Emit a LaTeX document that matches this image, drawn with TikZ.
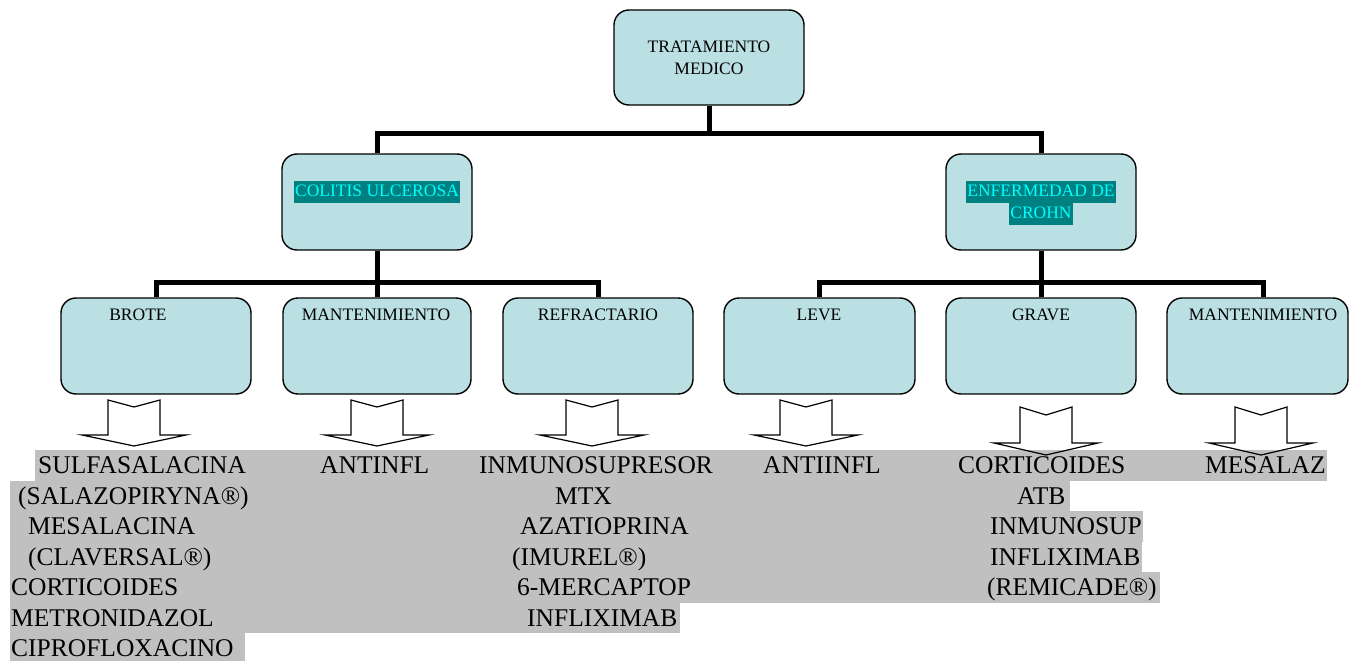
\documentclass[tikz,border=0pt]{standalone}
\usepackage{fontspec}
\setmainfont{Liberation Serif}
\definecolor{boxfill}{HTML}{BBE0E3}
\definecolor{bandgray}{HTML}{C0C0C0}
\definecolor{hlteal}{HTML}{008080}
\definecolor{hlcyan}{HTML}{00FFFF}
\tikzset{
  box/.style={draw=black, line width=1.4pt, fill=boxfill, rounded corners=15pt, inner sep=0pt},
  bigbox/.style={box, minimum width=190pt, minimum height=96pt},
  conn/.style={draw=black, line width=5pt, line join=miter},
  boxtxt/.style={font=\fontsize{17.5}{22}\selectfont, inner sep=0pt, align=center},
  hl/.style={boxtxt, fill=hlteal, text=hlcyan, inner xsep=1pt, text height=14pt, text depth=5pt, inner ysep=1.5pt},
  bt/.style={font=\fontsize{25.5}{30}\selectfont, anchor=base west, inner sep=0pt},
  band/.style={fill=bandgray},
  barrow/.pic={\draw[line width=1.2pt, line join=miter, fill=white]
     (-26,0) -- (0,7) -- (26,0) -- (26,35) -- (52,35) -- (0,46) -- (-52,35) -- (-26,35) -- cycle;},
  barrowopen/.pic={\draw[line width=1.2pt, line join=miter]
     (-26,0) -- (0,8) -- (26,0) -- (26,36) -- (52,36) -- (0,48) -- (-52,36) -- (-26,36) -- cycle;}
}
\begin{document}
\begin{tikzpicture}[x=1pt,y=-1pt]
\useasboundingbox (0,0) rectangle (1352,661);

% ---- block arrows (behind the gray band) ----
\pic at (134,400) {barrow};
\pic at (377,400) {barrow};
\pic at (592,400) {barrow};
\pic at (806,400) {barrow};

% ---- gray highlighted drug list ----
\fill[band] (35,450) rectangle (1327,480.5);
\fill[band] (10,480.5) rectangle (1070,511);
\fill[band] (10,511) rectangle (1143,541.5);
\fill[band] (10,541.5) rectangle (1142,572);
\fill[band] (10,572) rectangle (1160,602.5);
\fill[band] (10,602.5) rectangle (680,633);
\fill[band] (10,633) rectangle (245,661);

% arrows lying over the band
\pic at (1046,407) {barrowopen};
\pic at (1261,407) {barrowopen};

% ---- boxes ----
\node[box, minimum width=190pt, minimum height=95pt, boxtxt] (top) at (709,57.5) {TRATAMIENTO\\MEDICO};
\node[bigbox] (cu) at (377,202) {};
\node[bigbox] (ec) at (1041,202) {};

\node[bigbox] (brote) at (156,346) {};
\node[bigbox, minimum width=188pt] (mcu) at (377,346) {};
\node[bigbox] (refr) at (598,346) {};
\node[bigbox, minimum width=191pt] (leve) at (819.5,346) {};
\node[bigbox] (grave) at (1041,346) {};
\node[bigbox, minimum width=181pt] (mec) at (1257.5,346) {};

% ---- connectors ----
\draw[conn] (top.south) -- ++(0,28) -| (cu.north);
\draw[conn] (top.south) -- ++(0,28) -| (ec.north);
\draw[conn] (cu.south) -- ++(0,32) -| (brote.north);
\draw[conn] (cu.south) -- (mcu.north);
\draw[conn] (cu.south) -- ++(0,32) -| (refr.north);
\draw[conn] (ec.south) -- ++(0,32) -| (leve.north);
\draw[conn] (ec.south) -- (grave.north);
\draw[conn] (ec.south) -- ++(0,32) -| ([xshift=5.5pt]mec.north);

% ---- box labels ----
\node[hl] (cutxt) at (377,192) {COLITIS ULCEROSA};
\node[hl] (ectxt1) at (1041,192) {ENFERMEDAD DE};
\node[hl] (ectxt2) at (1041,214) {CROHN};

\node[boxtxt] (brotetxt) at (138,315) {BROTE};
\node[boxtxt] (mcutxt) at (376,315) {MANTENIMIENTO};
\node[boxtxt] (refrtxt) at (598,315) {REFRACTARIO};
\node[boxtxt] (levetxt) at (819,315) {LEVE};
\node[boxtxt] (gravetxt) at (1041,315) {GRAVE};
\node[boxtxt] (mectxt) at (1263,315) {MANTENIMIENTO};

% ---- drug list ----
\node[bt] (r1a) at (38,473) {SULFASALACINA};
\node[bt] (r1b) at (320,473) {ANTINFL};
\node[bt] (r1c) at (479,473) {INMUNOSUPRESOR};
\node[bt] (r1d) at (763,473) {ANTIINFL};
\node[bt] (r1e) at (958,473) {CORTICOIDES};
\node[bt] (r1f) at (1205,473) {MESALAZ};

\node[bt] (r2a) at (18,504) {(SALAZOPIRYNA®)};
\node[bt] (r2b) at (555,504) {MTX};
\node[bt] (r2c) at (1017,504) {ATB};

\node[bt] (r3a) at (28,534) {MESALACINA};
\node[bt] (r3b) at (520,534) {AZATIOPRINA};
\node[bt] (r3c) at (990,534) {INMUNOSUP};

\node[bt] (r4a) at (28,565) {(CLAVERSAL®)};
\node[bt] (r4b) at (512,565) {(IMUREL®)};
\node[bt] (r4c) at (990,565) {INFLIXIMAB};

\node[bt] (r5a) at (11,595) {CORTICOIDES};
\node[bt] (r5b) at (517,595) {6-MERCAPTOP};
\node[bt] (r5c) at (987,595) {(REMICADE®)};

\node[bt] (r6a) at (11,626) {METRONIDAZOL};
\node[bt] (r6b) at (527,626) {INFLIXIMAB};

\node[bt] (r7a) at (11,656) {CIPROFLOXACINO};
\end{tikzpicture}
\end{document}
